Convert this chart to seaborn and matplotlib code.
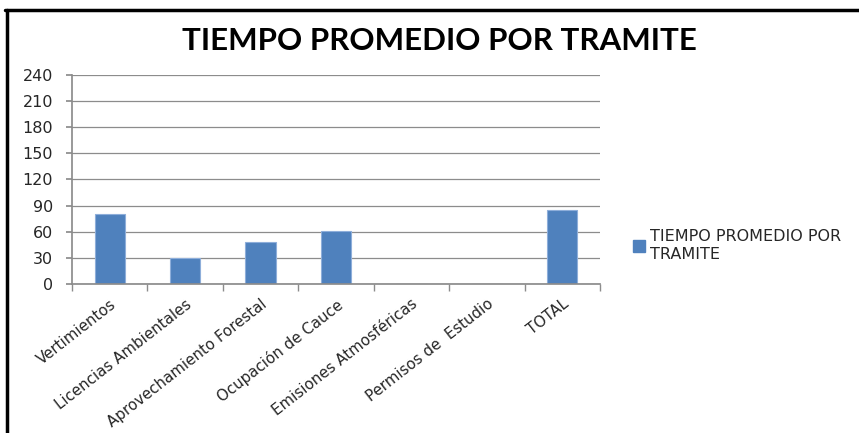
import matplotlib
matplotlib.use("Agg")
import matplotlib.pyplot as plt
import seaborn as sns
import pandas as pd
import numpy as np
from matplotlib.patches import Patch
from matplotlib.lines import Line2D

categories = ["Vertimientos", "Licencias Ambientales", "Aprovechamiento Forestal",
              "Ocupación de Cauce", "Emisiones Atmosféricas", "Permisos de  Estudio", "TOTAL"]
values = [80, 30, 48, 61, 0, 0, 85]
series_name = "TIEMPO PROMEDIO POR TRAMITE"
yticks = [0, 30, 60, 90, 120, 150, 180, 210, 240]

sns.set_theme(style="white")
plt.rcParams['font.family'] = ['DejaVu Sans']

df = pd.DataFrame({"cat": categories, "val": values, "serie": series_name})

fig = plt.figure(figsize=(8.59, 4.33), dpi=100)
ax = fig.add_axes([0.0838, 0.344, 0.6147, 0.483])

sns.barplot(data=df, x="cat", y="val", hue="serie", palette=["#4F81BD"],
            saturation=1, width=0.4, ax=ax, legend=False,
            edgecolor="#8EAEDA", linewidth=0.8)

ax.set_ylim(0, 240)
ax.set_xlim(-0.5, len(categories) - 0.5)
ax.set_yticks(yticks)
ax.set_yticklabels([str(t) for t in yticks], fontsize=11.5, color="#262626")
ax.yaxis.grid(True, color="#8C8C8C", linewidth=0.9)
ax.set_axisbelow(True)
ax.set_xlabel("")
ax.set_ylabel("")

for s in ["top", "right"]:
    ax.spines[s].set_visible(False)
ax.spines["left"].set_color("#8C8C8C")
ax.spines["bottom"].set_color("#8C8C8C")
ax.tick_params(axis="y", left=True, length=4.5, color="#8C8C8C", pad=9)

ax.set_xticks(np.arange(len(categories)))
ax.set_xticklabels(categories, rotation=38, ha="right", rotation_mode="anchor",
                   fontsize=10.8, color="#262626")
ax.tick_params(axis="x", bottom=False, pad=3)
# category boundary ticks
ax.set_xticks(np.arange(-0.5, len(categories)), minor=True)
ax.tick_params(axis="x", which="minor", bottom=True, length=5, color="#8C8C8C")

fig.text(0.512, 0.905, "TIEMPO PROMEDIO POR TRAMITE", ha="center", va="center",
         fontsize=22.5, fontweight="bold", color="black", family="Lato")

handle = Patch(facecolor="#4F81BD", edgecolor="#4F81BD")
fig.legend([handle], ["TIEMPO PROMEDIO POR\nTRAMITE"], loc="center left",
           bbox_to_anchor=(0.72, 0.433), frameon=False, fontsize=11.5,
           handlelength=0.75, handleheight=0.75, handletextpad=0.3,
           labelcolor="#262626")

# outer frame lines (top and left)
fig.add_artist(Line2D([0.006, 1.0], [0.978, 0.978], color="black", linewidth=2.5,
                      transform=fig.transFigure))
fig.add_artist(Line2D([0.008, 0.008], [0.0, 0.978], color="black", linewidth=2.5,
                      transform=fig.transFigure))

fig.savefig("out.png", dpi=100, facecolor="white")
